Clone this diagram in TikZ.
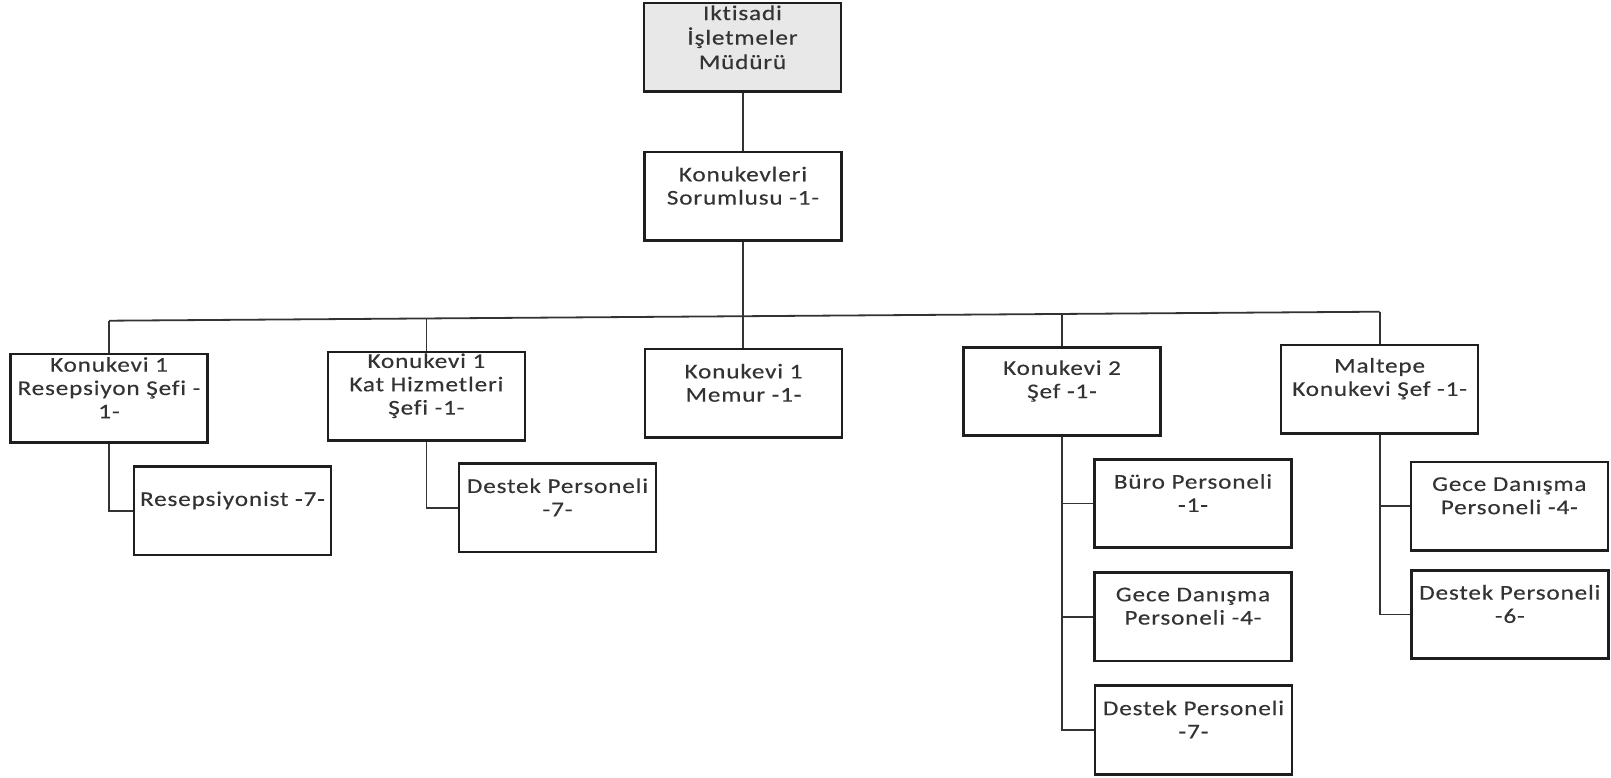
\documentclass[tikz,border=0pt]{standalone}
\usepackage{fontspec}
\setmainfont{Carlito}[FakeStretch=1.2, LetterSpace=4, FakeBold=0.3, Ligatures={NoCommon}]
\definecolor{boxc}{HTML}{1E1E1E}
\definecolor{connc}{HTML}{333333}
\definecolor{txtc}{HTML}{333333}
\definecolor{topfill}{HTML}{E8E8E8}
\begin{document}
\begin{tikzpicture}[x=1pt,y=-1pt,
  box/.style={draw=boxc, line width=2.6pt, minimum width=197pt, minimum height=88.5pt, inner sep=0pt},
  txt/.style={align=center, text=txtc, font=\fontsize{21}{23.3}\selectfont, yshift=10.5pt, inner sep=0pt},
  conn/.style={draw=connc, line width=1.8pt}]
\useasboundingbox (0,0) rectangle (1611,777);

% level 0 and 1
\node[box, fill=topfill, label={[txt, name=ttop, font=\fontsize{21}{24.5}\selectfont, yshift=-0.5pt]center:Iktisadi\\İşletmeler\\Müdürü}] (top) at (742.5,47.3) {};
\node[box, label={[txt, name=tsor]center:Konukevleri\\Sorumlusu -1-}] (sor) at (743,196.2) {};

% level 2
\node[box, label={[txt, name=tk1]center:Konukevi 1\\Resepsiyon Şefi -\\1-}] (k1) at (109,398.2) {};
\node[box, label={[txt, name=tk2]center:Konukevi 1\\Kat Hizmetleri\\Şefi -1-}] (k2) at (426.4,396.2) {};
\node[box, label={[txt, name=tk3]center:Konukevi 1\\Memur -1-}] (k3) at (743.5,393.3) {};
\node[box, label={[txt, name=tk4]center:Konukevi 2\\Şef -1-}] (k4) at (1062,391.5) {};
\node[box, label={[txt, name=tk5]center:Maltepe\\Konukevi Şef -1-}] (k5) at (1379.6,389.2) {};

% level 3
\node[box, label={[txt, name=trs]center:Resepsiyonist -7-}] (rs) at (232.5,510.9) {};
\node[box, label={[txt, name=tdk]center:Destek Personeli\\-7-}] (dk) at (557.5,507.8) {};
\node[box, label={[txt, name=tbu]center:Büro Personeli\\-1-}] (bu) at (1193,503.5) {};
\node[box, label={[txt, name=tgc]center:Gece Danışma\\Personeli -4-}] (gc) at (1193,616.7) {};
\node[box, label={[txt, name=tdk2]center:Destek Personeli\\-7-}] (dk2) at (1193.5,730) {};
\node[box, label={[txt, name=tmg]center:Gece Danışma\\Personeli -4-}] (mg) at (1509.3,506.3) {};
\node[box, label={[txt, name=td6]center:Destek Personeli\\-6-}] (d6) at (1509.8,614.5) {};

% bus
\coordinate (b1) at (109,320.7);
\coordinate (b2) at (426.4,318.5);
\coordinate (b3) at (743,316.2);
\coordinate (b4) at (1062,314);
\coordinate (b5) at (1379.6,311.7);

\draw[conn] (top.south -| sor.north) -- (sor.north);
\draw[conn] (sor.south) -- (b3);
\draw[conn] (b1) -- (b5);
\draw[conn] (b1) -- (k1.north);
\draw[conn] (b2) -- (k2.north);
\draw[conn] (b3) -- (k3.north -| b3);
\draw[conn] (b4) -- (k4.north);
\draw[conn] (b5) -- (k5.north);

\draw[conn] (k1.south) |- (rs.west);
\draw[conn] (k2.south) |- (dk.west);
\draw[conn] (k4.south) |- (bu.west);
\draw[conn] (k4.south) |- (gc.west);
\draw[conn] (k4.south) |- (dk2.west);
\draw[conn] (k5.south) |- (mg.west);
\draw[conn] (k5.south) |- (d6.west);
\end{tikzpicture}
\end{document}
